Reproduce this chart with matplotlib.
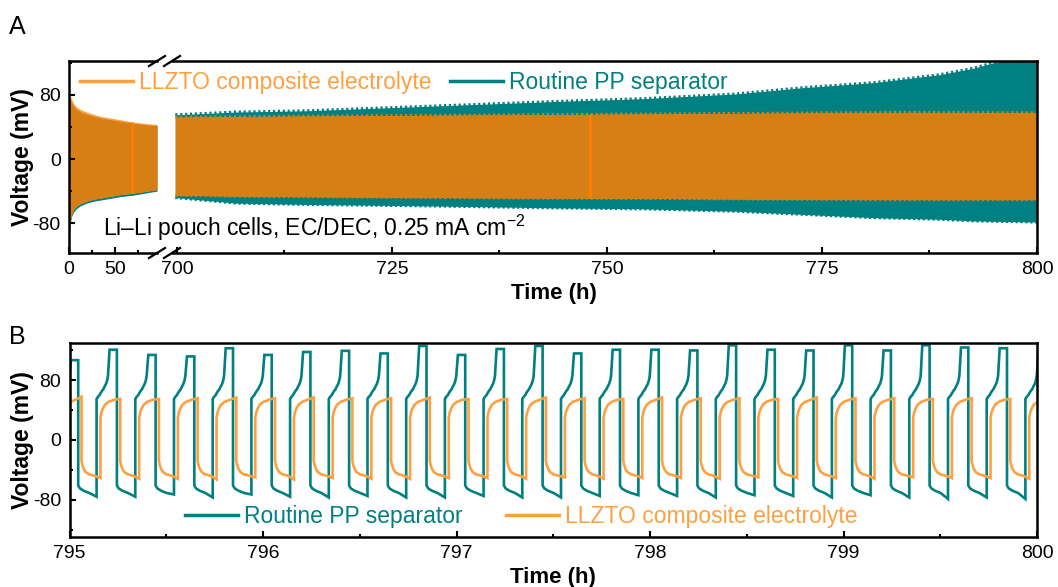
import numpy as np
import matplotlib.pyplot as plt
from matplotlib.lines import Line2D
from matplotlib.ticker import MultipleLocator

plt.rcParams['font.family'] = ['Liberation Sans', 'DejaVu Sans']
plt.rcParams['mathtext.fontset'] = 'custom'
plt.rcParams['mathtext.rm'] = 'Liberation Sans'
plt.rcParams['mathtext.it'] = 'Liberation Sans:italic'
plt.rcParams['mathtext.bf'] = 'Liberation Sans:bold'
plt.rcParams['axes.unicode_minus'] = False

TEAL = '#008080'
ORANGE = '#FFA040'      # LLZTO trace
ORANGE_DARK = '#D67F14' # LLZTO band where it covers the PP band
ORANGE_REST = '#FF8000'

# ---------------- panel A: envelopes of the long-term cycling (mV) ----------------
llzto_t_early = [0, 0.5, 1.5, 3, 5, 8, 12, 19, 27, 35, 45, 55, 70, 85, 95.6]
llzto_hi_early = [86, 82, 78, 74, 69, 65, 62, 58.5, 55.5, 53, 51, 49, 46, 44, 43]
llzto_lo_early = [-92, -85, -76, -68, -63, -59, -56, -52.5, -50, -48.5, -46.5, -44.5, -42.5, -40, -38]

pp_t_early = [0, 0.5, 1.5, 3, 5, 8, 12, 19, 27, 35, 45, 55, 70, 85, 95.6]
pp_hi_early = [80, 76, 73, 70, 66, 62, 59, 56, 53, 51, 49, 47, 44.5, 42.5, 41.5]
pp_lo_early = [-95, -88, -79, -71, -66, -62, -58.5, -55, -52.5, -51, -49, -47, -45, -42, -40]

llzto_t_late = [699.8, 710, 725, 740, 755, 770, 785, 800]
llzto_hi_late = [52, 53, 54, 55, 56, 57, 58, 57.5]
llzto_lo_late = [-45, -46.5, -47.5, -48.5, -49, -50, -50.5, -50.5]

pp_t_late = [699.8, 707, 715, 730, 745, 754, 765, 773, 781, 788.7, 792.6, 795, 800]
pp_hi_late = [55, 58.5, 60, 66, 72, 75, 81, 89, 95, 105, 113, 120, 127]
pp_lo_late = [-48, -55, -56.5, -58.5, -61, -62, -65, -69, -73, -75, -77, -77.5, -78.5]

llzto_rest_t = [69.0, 748.0]

# ---------------- panel B: last 5 h, cycle by cycle ----------------
pp_up_t = [794.94, 795.14, 795.34, 795.54, 795.74, 795.94, 796.14, 796.34, 796.54,
           796.74, 796.94, 797.14, 797.34, 797.54, 797.74, 797.94, 798.14, 798.34,
           798.54, 798.74, 798.94, 799.14, 799.34, 799.54, 799.74, 799.94]
pp_down_t = [795.045, 795.245, 795.445, 795.645, 795.845, 796.045, 796.245, 796.445,
             796.645, 796.845, 797.045, 797.245, 797.445, 797.645, 797.845, 798.045,
             798.245, 798.445, 798.645, 798.845, 799.045, 799.245, 799.445, 799.645,
             799.845, 800.045]
pp_peak = [107, 121, 114, 112, 123, 114, 118, 119.5, 116, 126, 114, 122, 126, 116,
           121, 121, 120, 127, 121, 120, 127, 120, 127, 124, 123, 118]
pp_trough = [-76, -76, -73, -77, -73, -76, -77, -75, -77, -77, -75, -77, -77, -75,
             -74, -75, -77, -74, -75, -77, -74, -77, -79, -77, -79]

llzto_up_t = [794.96, 795.16, 795.36, 795.56, 795.76, 795.96, 796.16, 796.36, 796.56,
              796.76, 796.96, 797.16, 797.36, 797.56, 797.76, 797.96, 798.16, 798.36,
              798.56, 798.76, 798.96, 799.16, 799.36, 799.56, 799.76, 799.96]
llzto_down_t = [795.062, 795.262, 795.462, 795.662, 795.862, 796.062, 796.262, 796.462,
                796.662, 796.862, 797.062, 797.262, 797.462, 797.662, 797.862, 798.062,
                798.262, 798.462, 798.662, 798.862, 799.062, 799.262, 799.462, 799.662,
                799.862, 800.062]
llzto_high = [58, 55, 55, 56, 57, 56, 57, 56, 56, 57, 55, 55, 57, 56, 55, 57, 56, 56,
              55, 57, 56, 56, 55, 56, 55, 55]
llzto_low = [-51, -52, -52, -53, -50, -53, -51, -52, -52, -51, -51, -52, -50, -52,
             -51, -51, -52, -50, -51, -51, -52, -50, -51, -51, -52]

# half-cycle profiles: fraction of the half period -> mV
PP_CHG_U = [0.0, 0.07, 0.14, 0.2, 0.27, 0.33, 0.40, 0.46, 0.52, 0.56]
PP_CHG_V = [55, 58, 60, 63, 66, 68, 72, 75, 80, 86]
PP_TOP_U = [0.64, 1.0]
PP_DIS_U = [0.0, 0.1, 0.3, 0.6]
PP_DIS_V = [-61, -65, -68, -71]

LLZ_CHG_U = [0.0, 0.05, 0.12, 0.22, 0.4, 0.7]
LLZ_CHG_V = [30, 37, 42, 47, 51, 54]
LLZ_TOP_U = [1.0]
LLZ_DIS_U = [0.0, 0.05, 0.12, 0.22, 0.4, 0.7]
LLZ_DIS_V = [-28, -34, -39, -43, -46, -48]


def build_trace(up_t, down_t, hi, lo, chg_u, chg_v, top_u, dis_u, dis_v):
    t, v = [], []
    for k in range(len(up_t)):
        d = down_t[k] - up_t[k]
        for u, val in zip(chg_u, chg_v):
            t.append(up_t[k] + u * d)
            v.append(val)
        for u in top_u:
            t.append(up_t[k] + u * d)
            v.append(hi[k])
        if k < len(lo):
            d = up_t[k + 1] - down_t[k]
            for u, val in zip(dis_u, dis_v):
                t.append(down_t[k] + u * d)
                v.append(val)
            t.append(up_t[k + 1])
            v.append(lo[k])
    return t, v


fig = plt.figure(figsize=(10.58, 5.87), dpi=100)
W, H = 1058.0, 587.0


def fig_rect(x0, y0, x1, y1):
    return [x0 / W, 1 - y1 / H, (x1 - x0) / W, (y1 - y0) / H]


ax_l = fig.add_axes(fig_rect(69, 61, 157, 253))
ax_r = fig.add_axes(fig_rect(172, 61, 1037, 253))
ax_b = fig.add_axes(fig_rect(69.5, 343, 1037, 537))

TICK_FS = 14
LABEL_FS = 16.5
EDGE = (0, (0.7, 0.9))  # ragged band edge made by the dense cycles


def style_axes(ax):
    for sp in ax.spines.values():
        sp.set_linewidth(1.8)
        sp.set_zorder(5)
    ax.tick_params(which='both', direction='in', labelsize=TICK_FS, width=1.5,
                   top=False, right=False)
    ax.tick_params(which='major', length=4.5, pad=6)
    ax.tick_params(which='minor', length=2.5)


# panel A
for ax, tt, phi, plo, lt, lhi, llo, ragged in [
        (ax_l, pp_t_early, pp_hi_early, pp_lo_early, llzto_t_early, llzto_hi_early, llzto_lo_early, False),
        (ax_r, pp_t_late, pp_hi_late, pp_lo_late, llzto_t_late, llzto_hi_late, llzto_lo_late, True)]:
    ax.fill_between(tt, plo, phi, color=TEAL, lw=0)
    ax.fill_between(lt, llo, lhi, color=ORANGE, lw=0)
    # LLZTO band over the PP band looks darker
    p_hi = np.interp(lt, tt, phi)
    p_lo = np.interp(lt, tt, plo)
    band_lo = np.maximum(llo, p_lo)
    band_hi = np.minimum(lhi, p_hi)
    ax.fill_between(lt, band_lo, band_hi, color=ORANGE_DARK, lw=0)
    if ragged:
        ax.plot(tt, phi, color=TEAL, lw=2.2, ls=EDGE)
        ax.plot(tt, plo, color=TEAL, lw=2.2, ls=EDGE)
        ax.plot(lt, band_hi, color=ORANGE_DARK, lw=2.2, ls=EDGE)
        ax.plot(lt, band_lo, color=ORANGE_DARK, lw=2.2, ls=EDGE)
    for tr in llzto_rest_t:
        if lt[0] <= tr <= lt[-1]:
            ax.vlines(tr, np.interp(tr, lt, llo), np.interp(tr, lt, lhi),
                      color=ORANGE_REST, lw=1.8)
    ax.set_ylim(-117, 122)
    style_axes(ax)

ax_l.set_xlim(0, 95.65)
ax_l.xaxis.set_major_locator(MultipleLocator(50))
ax_l.xaxis.set_minor_locator(MultipleLocator(25))
ax_l.yaxis.set_major_locator(MultipleLocator(80))
ax_l.yaxis.set_minor_locator(MultipleLocator(40))
ax_l.spines['right'].set_visible(False)

ax_r.set_xlim(699.42, 800)
ax_r.xaxis.set_major_locator(MultipleLocator(25))
ax_r.xaxis.set_minor_locator(MultipleLocator(12.5))
ax_r.spines['left'].set_visible(False)
ax_r.tick_params(which='both', left=False, labelleft=False)

# axis break marks
for cx in (157, 172):
    for cy in (61, 253):
        fig.add_artist(Line2D([(cx - 8) / W, (cx + 8) / W],
                              [1 - (cy + 5) / H, 1 - (cy - 5) / H],
                              transform=fig.transFigure, color='black', lw=1.6))

fig.text(103 / W, 1 - 228 / H, 'Li\u2013Li pouch cells, EC/DEC, 0.25 mA cm$^{-2}$',
         fontsize=LABEL_FS, va='center', ha='left')

leg_a = [Line2D([], [], color=ORANGE, lw=2.5), Line2D([], [], color=TEAL, lw=2.5)]
fig.legend(leg_a, ['LLZTO composite electrolyte', 'Routine PP separator'],
           loc='center left', bbox_to_anchor=(80 / W, 1 - 83 / H), ncol=2,
           frameon=False, fontsize=LABEL_FS, handlelength=2.3, handletextpad=0.28,
           columnspacing=0.8, borderpad=0, borderaxespad=0,
           labelcolor=[ORANGE, TEAL])

# panel B
t_pp, v_pp = build_trace(pp_up_t, pp_down_t, pp_peak, pp_trough,
                         PP_CHG_U, PP_CHG_V, PP_TOP_U, PP_DIS_U, PP_DIS_V)
t_ll, v_ll = build_trace(llzto_up_t, llzto_down_t, llzto_high, llzto_low,
                         LLZ_CHG_U, LLZ_CHG_V, LLZ_TOP_U, LLZ_DIS_U, LLZ_DIS_V)
ax_b.plot(t_pp, v_pp, color=TEAL, lw=1.9, solid_joinstyle='miter')
ax_b.plot(t_ll, v_ll, color=ORANGE, lw=1.9, solid_joinstyle='miter')
ax_b.set_xlim(795, 800)
ax_b.set_ylim(-130, 130)
ax_b.xaxis.set_major_locator(MultipleLocator(1))
ax_b.xaxis.set_minor_locator(MultipleLocator(0.5))
ax_b.yaxis.set_major_locator(MultipleLocator(80))
ax_b.yaxis.set_minor_locator(MultipleLocator(40))
style_axes(ax_b)

leg_b = [Line2D([], [], color=TEAL, lw=2.5), Line2D([], [], color=ORANGE, lw=2.5)]
fig.legend(leg_b, ['Routine PP separator', 'LLZTO composite electrolyte'],
           loc='center left', bbox_to_anchor=(185 / W, 1 - 517 / H), ncol=2,
           frameon=False, fontsize=LABEL_FS, handlelength=2.3, handletextpad=0.28,
           columnspacing=1.9, borderpad=0, borderaxespad=0,
           labelcolor=[TEAL, ORANGE])

# labels
for yc in (157, 440):
    fig.text(23 / W, 1 - yc / H, 'Voltage (mV)', rotation=90, fontsize=LABEL_FS,
             fontweight='bold', ha='center', va='center')
fig.text(554 / W, 1 - 294 / H, 'Time (h)', fontsize=16, fontweight='bold',
         ha='center', va='center')
fig.text(553 / W, 1 - 577 / H, 'Time (h)', fontsize=16, fontweight='bold',
         ha='center', va='center')
fig.text(9 / W, 1 - 27 / H, 'A', fontsize=18, ha='left', va='center')
fig.text(9 / W, 1 - 337 / H, 'B', fontsize=18, ha='left', va='center')

fig.savefig('out.png', dpi=100)
